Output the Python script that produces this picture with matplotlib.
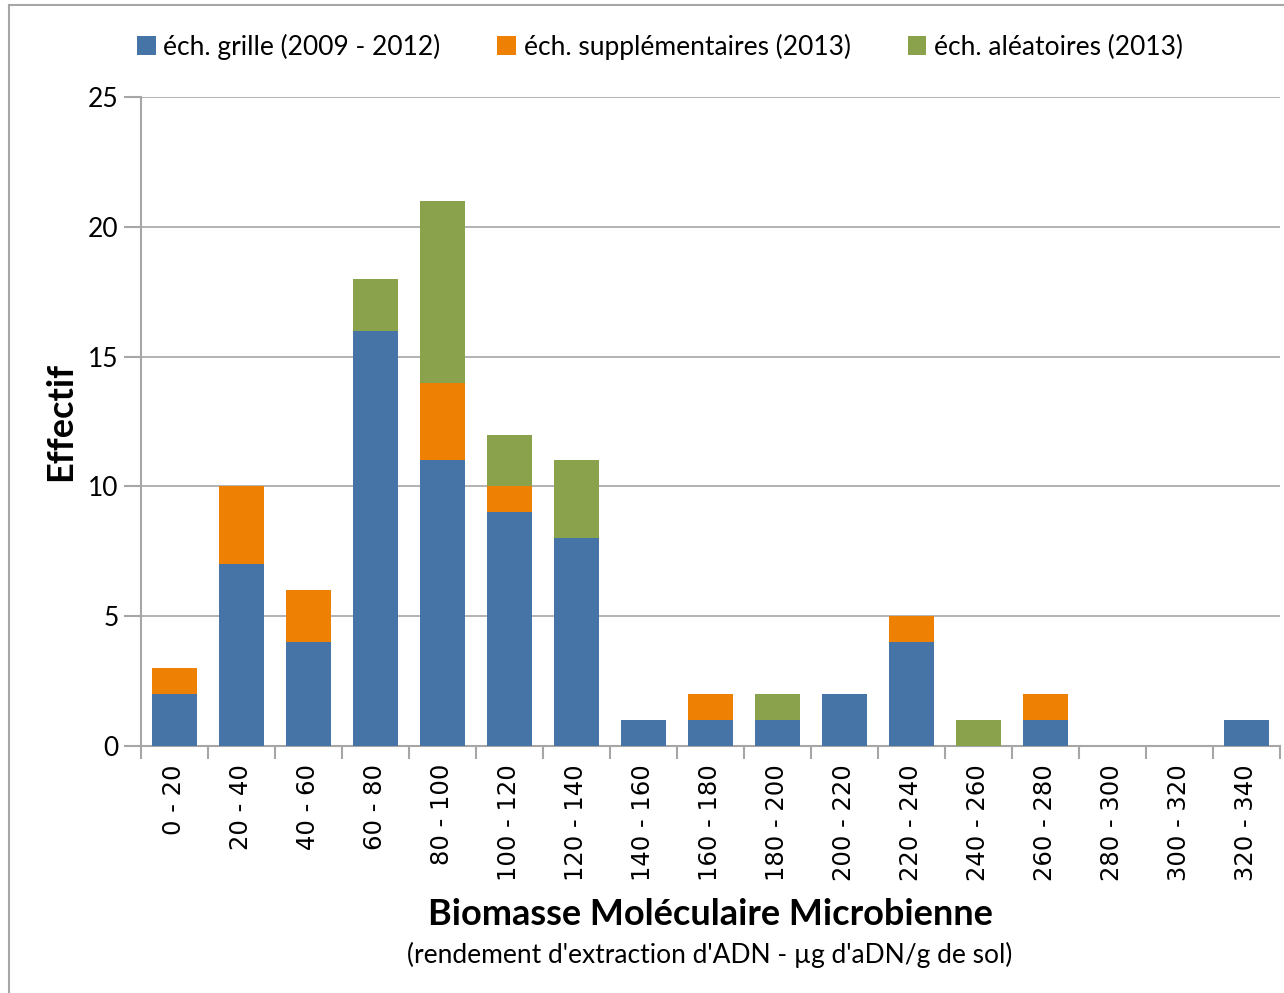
import numpy as np
import matplotlib.pyplot as plt
from matplotlib.lines import Line2D

# classes de biomasse (ug aDN / g de sol)
categories = ["0 - 20", "20 - 40", "40 - 60", "60 - 80", "80 - 100", "100 - 120",
              "120 - 140", "140 - 160", "160 - 180", "180 - 200", "200 - 220",
              "220 - 240", "240 - 260", "260 - 280", "280 - 300", "300 - 320",
              "320 - 340"]

grille = [2, 7, 4, 16, 11, 9, 8, 1, 1, 1, 2, 4, 0, 1, 0, 0, 1]
supplementaires = [1, 3, 2, 0, 3, 1, 0, 0, 1, 0, 0, 1, 0, 1, 0, 0, 0]
aleatoires = [0, 0, 0, 2, 7, 2, 3, 0, 0, 1, 0, 0, 1, 0, 0, 0, 0]

series_labels = ["éch. grille (2009 - 2012)", "éch. supplémentaires (2013)",
                 "éch. aléatoires (2013)"]
colors = ["#4674a6", "#ee8104", "#8aa24b"]

plt.rcParams['font.family'] = ['Lato', 'DejaVu Sans']

fig = plt.figure(figsize=(12.84, 9.93), dpi=100)
ax = fig.add_axes([0.1098, 0.2487, 0.887, 0.6536])

x = np.arange(len(categories))
bottom = np.zeros(len(categories))
for vals, lab, col in zip([grille, supplementaires, aleatoires], series_labels, colors):
    ax.bar(x, vals, width=0.67, bottom=bottom, color=col, label=lab, zorder=3)
    bottom = bottom + np.array(vals)

ax.set_xlim(-0.5, len(categories) - 0.5)
ax.set_ylim(0, 25)
ax.set_yticks([0, 5, 10, 15, 20, 25])
ax.yaxis.grid(True, color="#a6a6a6", linewidth=1.2, zorder=0)

for s in ["top", "right"]:
    ax.spines[s].set_visible(False)
for s in ["left", "bottom"]:
    ax.spines[s].set_color("#a6a6a6")
    ax.spines[s].set_linewidth(1.5)

ax.set_xticks(x)
ax.set_xticklabels(categories, rotation=90, fontsize=17.5, family="DejaVu Sans")
ax.set_xticks(np.arange(len(categories) + 1) - 0.5, minor=True)
ax.tick_params(axis="x", which="major", length=0, pad=13)
ax.tick_params(axis="x", which="minor", length=9, color="#a6a6a6", width=1.5)
ax.tick_params(axis="y", length=12, color="#a6a6a6", width=1.5, labelsize=19, pad=4)

ax.set_ylabel("Effectif", fontsize=26, fontweight="bold", labelpad=8)
ax.set_xlabel("Biomasse Moléculaire Microbienne", fontsize=26, fontweight="bold", labelpad=12)
fig.text(0.553, 0.038, "(rendement d'extraction d'ADN - µg d'aDN/g de sol)",
         ha="center", va="center", fontsize=19)

fig.legend(loc="upper center", bbox_to_anchor=(0.514, 0.99), ncol=3, frameon=False,
           fontsize=19, handlelength=0.7, handleheight=0.7, handletextpad=0.3,
           columnspacing=2.15)

# cadre autour du graphique
fig.add_artist(Line2D([0.007, 0.007], [0, 0.995], transform=fig.transFigure,
                      color="#a6a6a6", linewidth=1.5))
fig.add_artist(Line2D([0.007, 1.0], [0.995, 0.995], transform=fig.transFigure,
                      color="#a6a6a6", linewidth=1.5))

fig.savefig("out.png", dpi=100)
